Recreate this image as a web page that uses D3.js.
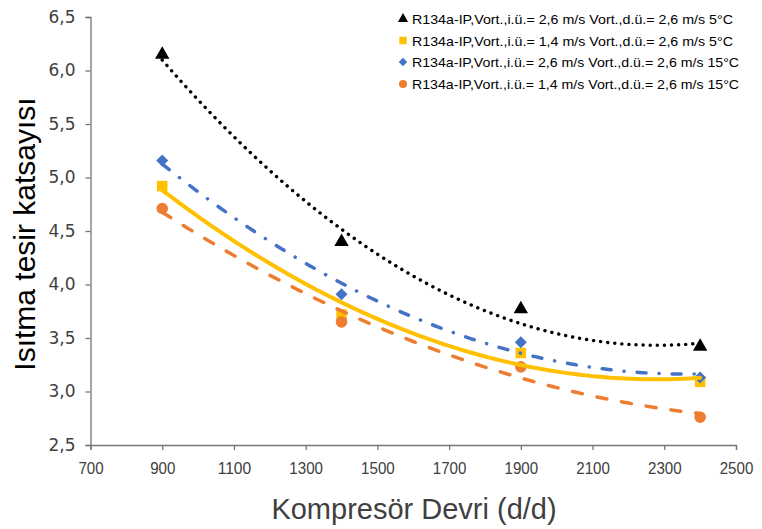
<!DOCTYPE html>
<html><head><meta charset="utf-8">
<script src="https://cdn.jsdelivr.net/npm/d3@7/dist/d3.min.js"></script>
<style>body{margin:0;background:#fff}svg{display:block}</style>
</head><body>
<script>
const speeds = [900, 1400, 1900, 2400];
const seriesNames = [
  "R134a-IP,Vort.,i.ü.= 2,6  m/s Vort.,d.ü.= 2,6  m/s 5°C",
  "R134a-IP,Vort.,i.ü.= 1,4  m/s Vort.,d.ü.= 2,6  m/s 5°C",
  "R134a-IP,Vort.,i.ü.= 2,6  m/s Vort.,d.ü.= 2,6  m/s 15°C",
  "R134a-IP,Vort.,i.ü.= 1,4  m/s Vort.,d.ü.= 2,6  m/s 15°C"
];
const valuesA = [6.14, 4.39, 3.76, 3.41];
const valuesB = [4.92, 3.72, 3.36, 3.09];
const valuesC = [5.16, 3.91, 3.46, 3.13];
const valuesD = [4.71, 3.65, 3.23, 2.76];
const xTicks = [700, 900, 1100, 1300, 1500, 1700, 1900, 2100, 2300, 2500];
const yTicks = [2.5, 3.0, 3.5, 4.0, 4.5, 5.0, 5.5, 6.0, 6.5];
const xTitle = "Kompresör Devri (d/d)";
const yTitle = "Isıtma tesir katsayısı";

const styles = [
  {color:"#000000", marker:d3.symbolTriangle, msize:90, rot:0, dash:"0.1 7", width:3.4},
  {color:"#FFC000", marker:d3.symbolSquare, msize:110, rot:0, dash:null, width:4},
  {color:"#4472C4", marker:d3.symbolSquare, msize:72, rot:45, dash:"9 13 0.1 13", width:3.5},
  {color:"#ED7D31", marker:d3.symbolCircle, msize:105, rot:0, dash:"10 15", width:3.5}
];
const allValues = [valuesA, valuesB, valuesC, valuesD];

const W = 762, H = 529;
const svg = d3.select("body").append("svg").attr("width", W).attr("height", H);
const x = d3.scaleLinear().domain([700, 2500]).range([90.5, 736]);
const y = d3.scaleLinear().domain([2.5, 6.5]).range([445, 17]);

// axes
const axisColor = "#767676";
const gx = svg.append("g").attr("transform", `translate(0,${y(2.5)})`)
  .call(d3.axisBottom(x).tickValues(xTicks).tickSize(5).tickPadding(12).tickFormat(d3.format("d")));
const gy = svg.append("g").attr("transform", `translate(${x(700)},0)`)
  .call(d3.axisLeft(y).tickValues(yTicks).tickSize(5).tickPadding(10).tickFormat(d => d.toFixed(1).replace(".", ",")));
[gx, gy].forEach(g => {
  g.select(".domain").attr("stroke", axisColor).attr("stroke-width", 1.3);
  g.selectAll(".tick line").attr("stroke", axisColor).attr("stroke-width", 1.3);
});
gx.selectAll("text").attr("fill", "#404040").style("font-family", "'Liberation Sans',Arial,sans-serif").style("font-size", "17px")
  .attr("textLength", d => String(d).length * 8.4).attr("lengthAdjust", "spacingAndGlyphs");
gy.selectAll("text").attr("fill", "#404040").style("font-family", "'DejaVu Sans',Verdana,sans-serif").style("font-size", "17px");

// titles
svg.append("text").attr("x", 414).attr("y", 519).attr("text-anchor", "middle")
  .style("font-family", "'Liberation Sans',Arial,sans-serif").style("font-size", "29px").attr("fill", "#404040").text(xTitle);
svg.append("text").attr("transform", `translate(35,${234}) rotate(-90)`).attr("text-anchor", "middle")
  .style("font-family", "'Liberation Sans',Arial,sans-serif").style("font-size", "30px").attr("fill", "#000").text(yTitle);

// quadratic least squares fit
function polyFit2(xs, ys) {
  const m = d3.mean(xs);
  const u = xs.map(v => (v - m) / 1000);
  let S = [[0,0,0],[0,0,0],[0,0,0]], b = [0,0,0];
  u.forEach((ui, i) => {
    const p = [1, ui, ui*ui];
    for (let r = 0; r < 3; r++) { b[r] += p[r]*ys[i]; for (let c = 0; c < 3; c++) S[r][c] += p[r]*p[c]; }
  });
  for (let k = 0; k < 3; k++) {
    for (let r = k+1; r < 3; r++) {
      const f = S[r][k]/S[k][k];
      for (let c = k; c < 3; c++) S[r][c] -= f*S[k][c];
      b[r] -= f*b[k];
    }
  }
  const co = [0,0,0];
  for (let r = 2; r >= 0; r--) {
    let s = b[r]; for (let c = r+1; c < 3; c++) s -= S[r][c]*co[c];
    co[r] = s/S[r][r];
  }
  return v => { const t = (v - m)/1000; return co[0] + co[1]*t + co[2]*t*t; };
}

const plot = svg.append("g");
// markers
allValues.forEach((vals, i) => {
  plot.append("g").selectAll("path").data(speeds).join("path")
    .attr("transform", (d, j) => `translate(${x(d)},${y(vals[j])})${i===0?" translate(0,-1)":""} rotate(${styles[i].rot})`)
    .attr("d", d3.symbol().type(styles[i].marker).size(styles[i].msize))
    .attr("fill", styles[i].color);
});
// trendlines
allValues.forEach((vals, i) => {
  const f = polyFit2(speeds, vals);
  const xs = d3.range(900, 2400.1, 10);
  plot.append("path").datum(xs)
    .attr("d", d3.line().x(d => x(d)).y(d => y(f(d))))
    .attr("fill", "none").attr("stroke", styles[i].color).attr("stroke-width", styles[i].width)
    .attr("stroke-linecap", "round")
    .attr("stroke-dasharray", styles[i].dash);
});

// legend
const lg = svg.append("g");
const rows = [19, 40.5, 62, 84];
seriesNames.forEach((name, i) => {
  lg.append("path").attr("transform", `translate(403,${rows[i]}) rotate(${styles[i].rot})`)
    .attr("d", d3.symbol().type(styles[i].marker).size(styles[i].msize * 0.5))
    .attr("fill", styles[i].color);
  lg.append("text").attr("x", 412).attr("y", rows[i] + 5)
    .style("font-family", "'Liberation Sans',sans-serif").style("font-size", "13.5px")
    .attr("fill", "#000").attr("textLength", name.endsWith("15°C") ? 327 : 321).attr("lengthAdjust", "spacingAndGlyphs").text(name);
});
</script>
</body></html>
